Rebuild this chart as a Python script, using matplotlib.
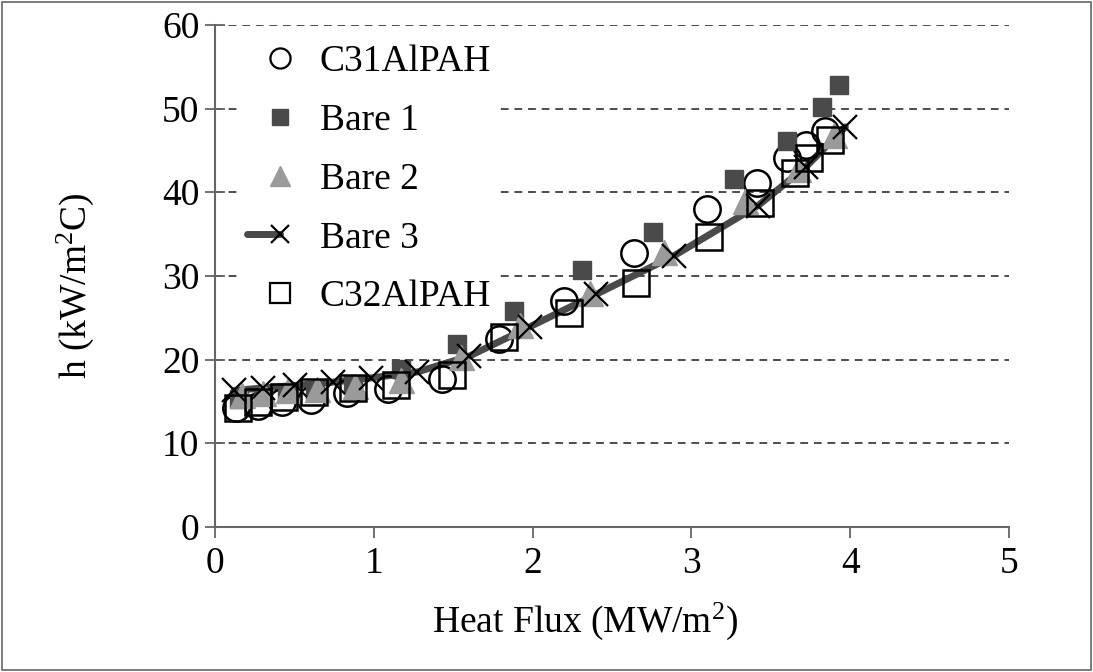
import matplotlib.pyplot as plt
import matplotlib as mpl
from matplotlib.patches import Rectangle
from matplotlib.lines import Line2D
from matplotlib.legend_handler import HandlerLine2D

# heat flux (MW/m2) and h (kW/m2C)
c31_x = [0.13, 0.27, 0.42, 0.60, 0.83, 1.09, 1.43, 1.79, 2.20, 2.64, 3.10, 3.41, 3.60, 3.72, 3.84]
c31_y = [14.2, 14.5, 14.9, 15.2, 16.0, 16.5, 17.7, 22.4, 27.0, 32.7, 38.0, 41.1, 44.1, 45.7, 47.3]

bare1_x = [0.15, 0.30, 0.45, 0.63, 0.87, 1.17, 1.52, 1.88, 2.31, 2.76, 3.27, 3.60, 3.82, 3.93]
bare1_y = [15.3, 15.6, 16.0, 16.4, 17.0, 18.9, 21.8, 25.8, 30.7, 35.3, 41.6, 46.1, 50.2, 52.8]

bare2_x = [0.17, 0.30, 0.46, 0.64, 0.88, 1.17, 1.55, 1.92, 2.36, 2.83, 3.34, 3.67, 3.90]
bare2_y = [15.8, 16.0, 16.3, 16.5, 16.8, 17.6, 20.3, 24.1, 28.0, 32.8, 38.9, 42.8, 46.8]

bare3_x = [0.12, 0.30, 0.50, 0.74, 0.98, 1.27, 1.60, 1.98, 2.40, 2.89, 3.42, 3.72, 3.97]
bare3_y = [16.3, 16.6, 16.9, 17.3, 17.8, 18.5, 20.4, 23.9, 27.8, 32.4, 38.4, 43.0, 47.8]

c32_x = [0.14, 0.27, 0.43, 0.62, 0.87, 1.14, 1.49, 1.82, 2.23, 2.65, 3.11, 3.43, 3.65, 3.74, 3.87]
c32_y = [14.2, 14.9, 15.5, 16.1, 16.6, 16.9, 18.2, 22.7, 25.6, 29.2, 34.6, 38.7, 42.3, 44.1, 46.2]

mpl.rc('font', family='Liberation Serif', size=27)
mpl.rcParams['mathtext.fontset'] = 'custom'
mpl.rcParams['mathtext.rm'] = 'Liberation Serif'
mpl.rcParams['mathtext.it'] = 'Liberation Serif:italic'


class LeftLineHandler(HandlerLine2D):
    # excel style: line runs in from the left, marker sits at the right end
    def create_artists(self, legend, orig_handle, xdescent, ydescent, width, height, fontsize, trans):
        arts = super().create_artists(legend, orig_handle, xdescent, ydescent, width, height, fontsize, trans)
        line = arts[0]
        xd = list(line.get_xdata())
        yd = list(line.get_ydata())
        mid = (xd[0] + xd[-1]) / 2
        line.set_data([xd[0], mid], [yd[0], yd[0]])
        line.set_solid_capstyle('round')
        return arts


fig = plt.figure(figsize=(10.93, 6.72), dpi=100)
ax = fig.add_axes([0.197, 0.216, 0.726, 0.747])

ax.plot(c31_x, c31_y, linestyle='none', marker='o', markersize=19, markerfacecolor='none',
        markeredgecolor='black', markeredgewidth=1.8, zorder=3)
ax.plot(bare1_x, bare1_y, linestyle='none', marker='s', markersize=13, color='#4a4a4a', zorder=3)
ax.plot(bare2_x, bare2_y, linestyle='none', marker='^', markersize=18, color='#9a9a9a', zorder=4)
ax.plot(bare3_x, bare3_y, color='#4a4a4a', linewidth=5, solid_capstyle='round', zorder=2)
ax.plot(bare3_x, bare3_y, linestyle='none', marker='x', markersize=17, markeredgecolor='black',
        markeredgewidth=1.6, zorder=5)
ax.plot(c32_x, c32_y, linestyle='none', marker='s', markersize=19, markerfacecolor='none',
        markeredgecolor='black', markeredgewidth=1.8, zorder=6)

ax.set_xlim(0, 5)
ax.set_ylim(0, 60)
ax.set_xticks(range(0, 6))
ax.set_yticks(range(0, 61, 10))
for v in range(10, 61, 10):
    ax.axhline(v, color='#4d4d4d', linestyle=(0, (4, 3)), linewidth=1.4, zorder=1)

for s in ['top', 'right']:
    ax.spines[s].set_visible(False)
for s in ['left', 'bottom']:
    ax.spines[s].set_color('#666666')
    ax.spines[s].set_linewidth(1.5)
ax.tick_params(axis='y', direction='inout', length=15, width=1.3, color='#666666', pad=4)
ax.tick_params(axis='x', direction='out', length=8, width=1.3, color='#666666', pad=6)

ax.set_xlabel('Heat Flux (MW/m$^2$)', fontsize=27)
ax.set_ylabel('h (kW/m$^2$C)', fontsize=27)
ax.xaxis.set_label_coords(0.466, -0.148)
ax.yaxis.set_label_coords(-0.15, 0.48)

handles = [
    Line2D([], [], linestyle='none', marker='o', markersize=14.5, markerfacecolor='none',
           markeredgecolor='black', markeredgewidth=1.6),
    Line2D([], [], linestyle='none', marker='s', markersize=12, color='#4a4a4a'),
    Line2D([], [], linestyle='none', marker='^', markersize=15, color='#9a9a9a'),
    Line2D([], [], color='#4a4a4a', linewidth=5, marker='x', markersize=13,
           markeredgecolor='black', markeredgewidth=1.6),
    Line2D([], [], linestyle='none', marker='s', markersize=14.5, markerfacecolor='none',
           markeredgecolor='black', markeredgewidth=1.6),
]
labels = ['C31AlPAH', 'Bare 1', 'Bare 2', 'Bare 3', 'C32AlPAH']
ax.legend(handles, labels, loc='upper left', bbox_to_anchor=(0.03, 0.976), borderaxespad=0,
          frameon=True, framealpha=1, edgecolor='none', fontsize=27, labelspacing=0.65,
          handlelength=1.8, handletextpad=0.15, borderpad=0.2,
          handler_map={handles[3]: LeftLineHandler()})

fig.patches.append(Rectangle((0.002, 0.003), 0.996, 0.994, transform=fig.transFigure,
                             fill=False, edgecolor='#666666', linewidth=1.2))

plt.savefig('out.png', dpi=100)
